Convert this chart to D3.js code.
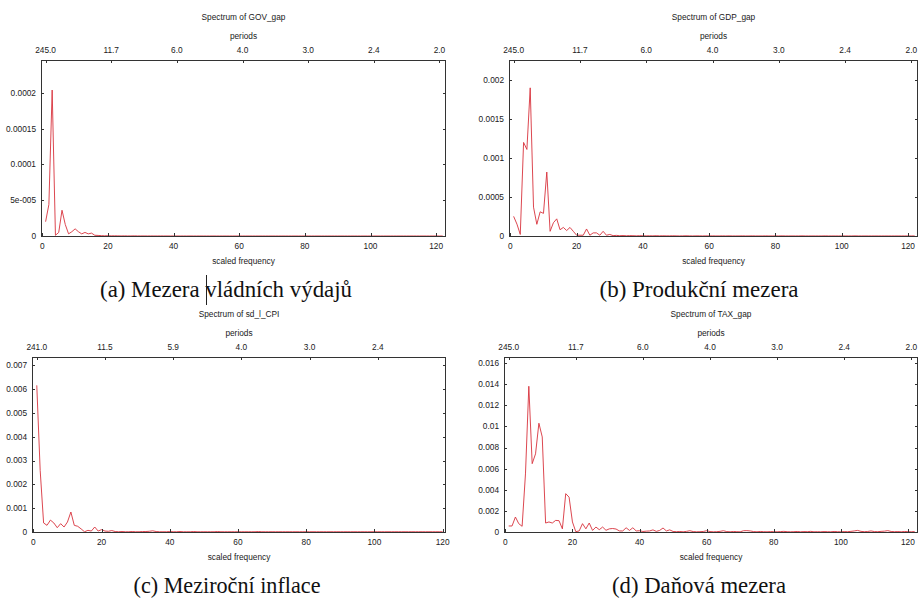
<!DOCTYPE html>
<html lang="cs">
<head>
  <meta charset="utf-8" />
  <title>Spektra</title>
  <script src="https://cdn.jsdelivr.net/npm/d3@7/dist/d3.min.js"></script>
  <style>
    html,body{margin:0;padding:0;background:#fff;}
    #svg{display:block;}
    .ax{font-family:"Liberation Sans",Arial,sans-serif;font-size:8.3px;fill:#1a1a1a;}
    .cap{font-family:"Liberation Serif","DejaVu Serif","Times New Roman",serif;font-size:22px;fill:#111;}
  </style>
</head>
<body>
<svg id="svg"></svg>
<script>
// ----- data: periodogram ordinates, index i -> scaled frequency i+1 -----
const govGap = [
  2.0e-5, 4.4e-5, 2.04e-4, 0.1e-5, 0.5e-5, 3.6e-5, 1.6e-5, 0.3e-5, 0.6e-5, 1.0e-5,
  0.6e-5, 0.3e-5, 0.5e-5, 0.3e-5, 0.4e-5, 0.1e-5, 0.08e-5, 0.05e-5, 0.03e-5, 0.04e-5,
  2e-7, 3e-7, 2e-7, 1e-7, 2e-7, 1e-7, 1e-7, 2e-7, 1e-7, 1e-7,
  1e-7, 5e-8, 1e-7, 5e-8, 5e-8, 1e-7, 5e-8, 5e-8, 3e-8, 5e-8,
  3e-8, 2e-8, 4e-8, 2e-8, 3e-8, 2e-8, 2e-8, 3e-8, 2e-8, 1e-8,
  2e-8, 3e-8, 2e-8, 1e-8, 2e-8, 2e-8, 1e-8, 2e-8, 1e-8, 2e-8,
  1e-8, 2e-8, 1e-8, 1e-8, 2e-8, 1e-8, 1e-8, 2e-8, 1e-8, 1e-8,
  1e-8, 1e-8, 2e-8, 1e-8, 1e-8, 1e-8, 2e-8, 1e-8, 1e-8, 1e-8,
  1e-8, 2e-8, 1e-8, 1e-8, 1e-8, 1e-8, 1e-8, 2e-8, 1e-8, 1e-8,
  1e-8, 1e-8, 1e-8, 2e-8, 1e-8, 1e-8, 1e-8, 1e-8, 1e-8, 1e-8,
  2e-8, 1e-8, 1e-8, 1e-8, 1e-8, 1e-8, 1e-8, 1e-8, 2e-8, 1e-8,
  1e-8, 1e-8, 1e-8, 1e-8, 1e-8, 1e-8, 1e-8, 1e-8, 1e-8, 1e-8,
  1e-8, 1e-8
];
const gdpGap = [
  0.000252, 0.000152, 0.00002, 0.0012, 0.00111, 0.0019, 0.00037, 0.00015, 0.00031, 0.00029,
  0.00082, 0.00006, 0.00017, 0.00022, 0.00008, 0.00011, 0.00007, 0.00011, 0.00006, 0.00001,
  0.00001, 0.00001, 0.00009, 0.00001, 0.00004, 0.00004, 0.00001, 0.00006, 0.00001, 0.00002,
  0.000005, 0.000008, 0.000004, 0.000006, 0.000003, 0.000005, 0.000004, 0.000002, 0.000004, 0.000003,
  0.000002, 0.000003, 0.000002, 0.000004, 0.000002, 0.000003, 0.000002, 0.000002, 0.000003, 0.000002,
  0.000001, 0.000002, 0.000003, 0.000002, 0.000001, 0.000002, 0.000002, 0.000001, 0.000002, 0.000001,
  0.000002, 0.000001, 0.000001, 0.000002, 0.000001, 0.000002, 0.000001, 0.000001, 0.000001, 0.000002,
  0.000001, 0.000001, 0.000002, 0.000001, 0.000001, 0.000001, 0.000002, 0.000001, 0.000001, 0.000001,
  0.000001, 0.000002, 0.000001, 0.000001, 0.000001, 0.000001, 0.000001, 0.000002, 0.000001, 0.000001,
  0.000001, 0.000001, 0.000001, 0.000001, 0.000002, 0.000001, 0.000001, 0.000001, 0.000001, 0.000001,
  0.000001, 0.000001, 0.000001, 0.000002, 0.000001, 0.000001, 0.000001, 0.000001, 0.000001, 0.000001,
  0.000001, 0.000001, 0.000001, 0.000001, 0.000001, 0.000001, 0.000001, 0.000001, 0.000001, 0.000001,
  0.000001, 0.000001
];
const cpiInfl = [
  0.00616, 0.00259, 0.00038, 0.00028, 0.0005, 0.00038, 0.00018, 0.00035, 0.00021, 0.00042,
  0.00084, 0.00028, 0.00024, 0.00013, 0.00001, 0.00007, 0.00004, 0.00021, 0.00004, 0.0001,
  0.00004, 0.00003, 0.00006, 0.00002, 0.00001, 0.00002, 0.00001, 0.00001, 0.00002, 0.00001,
  0.00001, 0.00002, 0.00002, 0.00003, 0.00005, 0.00002, 0.00001, 0.00001, 0.00001, 0.00002,
  0.00001, 0.00001, 0.00002, 0.00001, 0.00001, 0.00001, 0.00002, 0.00001, 0.00001, 0.00001,
  0.00001, 0.00001, 0.00001, 0.00002, 0.00001, 0.00001, 0.00001, 0.00001, 0.00001, 0.00001,
  0.00001, 0.00001, 0.00001, 0.00001, 0.00001, 0.00002, 0.00001, 0.00001, 0.00001, 0.00001,
  0.00001, 0.00001, 0.00001, 0.00001, 0.00001, 0.00001, 0.00001, 0.00001, 0.00001, 0.00001,
  0.00001, 0.00001, 0.00001, 0.00001, 0.00001, 0.00001, 0.00001, 0.00001, 0.00001, 0.00001,
  0.00001, 0.00001, 0.00001, 0.00001, 0.00001, 0.00001, 0.00001, 0.00001, 0.00001, 0.00001,
  0.00001, 0.00001, 0.00001, 0.00001, 0.00001, 0.00001, 0.00001, 0.00001, 0.00001, 0.00001,
  0.00001, 0.00001, 0.00001, 0.00001, 0.00001, 0.00001, 0.00001, 0.00001, 0.00001, 0.00001
];
const taxGap = [
  0.00057, 0.00057, 0.00142, 0.00079, 0.00054, 0.0055, 0.0138, 0.00647, 0.0074, 0.0103,
  0.0090, 0.00085, 0.00095, 0.00085, 0.0011, 0.00107, 0.0003, 0.00363, 0.0033, 0.00095,
  0.00003, 0.0001, 0.00079, 0.0003, 0.00085, 0.00015, 0.00047, 0.00022, 0.00047, 0.00016,
  0.0003, 0.00033, 0.00028, 0.0001, 0.0001, 0.0004, 0.00015, 0.0004, 0.0001, 0.00012,
  0.00005, 0.00008, 0.0001, 0.0002, 0.00006, 0.00015, 0.00038, 0.0001, 0.0002, 0.00005,
  0.00003, 0.00005, 0.00002, 0.00006, 0.00012, 0.00004, 0.00002, 0.00003, 0.00005, 0.00012,
  0.00004, 0.00002, 0.00003, 0.00006, 0.00012, 0.00004, 0.00002, 0.00005, 0.00003, 0.00002,
  0.00012, 0.00013, 0.0001, 0.00004, 0.00002, 0.00005, 0.00003, 0.00002, 0.00004, 0.00003,
  0.00002, 0.00004, 0.00006, 0.00003, 0.00002, 0.00003, 0.00005, 0.00002, 0.00004, 0.00003,
  0.00006, 0.00002, 0.00003, 0.00002, 0.00004, 0.00003, 0.00002, 0.00005, 0.00003, 0.00002,
  0.00004, 0.00003, 0.00006, 0.0001, 0.00015, 0.00006, 0.00003, 0.00005, 0.0001, 0.00004,
  0.00003, 0.00006, 0.00008, 0.00013, 0.00005, 0.00003, 0.00004, 0.00002, 0.00005, 0.00003,
  0.00002, 0.00004
];

// ----- ticks -----
const freqTicks = [0, 20, 40, 60, 80, 100, 120];
const periodPos = [1, 21, 41, 61, 81, 101, 121];
const periodLabels245 = ['245.0', '11.7', '6.0', '4.0', '3.0', '2.4', '2.0'];
const periodLabels241 = ['241.0', '11.5', '5.9', '4.0', '3.0', '2.4'];
const govTicks = [0, 0.00005, 0.0001, 0.00015, 0.0002];
const govTickLabels = ['0', '5e-005', '0.0001', '0.00015', '0.0002'];
const gdpTicks = [0, 0.0005, 0.001, 0.0015, 0.002];
const gdpTickLabels = ['0', '0.0005', '0.001', '0.0015', '0.002'];
const cpiTicks = [0, 0.001, 0.002, 0.003, 0.004, 0.005, 0.006, 0.007];
const cpiTickLabels = ['0', '0.001', '0.002', '0.003', '0.004', '0.005', '0.006', '0.007'];
const taxTicks = [0, 0.002, 0.004, 0.006, 0.008, 0.01, 0.012, 0.014, 0.016];
const taxTickLabels = ['0', '0.002', '0.004', '0.006', '0.008', '0.01', '0.012', '0.014', '0.016'];

const W = 919, H = 598;
const svg = d3.select('#svg').attr('width', W).attr('height', H);

// panel layout: box = [left, top, right, bottom], capW = caption width in the picture
const panels = [
  {title:'Spectrum of GOV_gap', data:govGap, yt:govTicks, ytl:govTickLabels, pl:periodLabels245,
   box:[41, 60, 446, 236], xMax:123, yMax:0.000246, caption:'(a) Mezera vládních výdajů', capX:226, capW:252},
  {title:'Spectrum of GDP_gap', data:gdpGap, yt:gdpTicks, ytl:gdpTickLabels, pl:periodLabels245,
   box:[509, 60, 918, 236], xMax:123, yMax:0.002257, caption:'(b) Produkční mezera', capX:699, capW:199},
  {title:'Spectrum of sd_l_CPI', data:cpiInfl, yt:cpiTicks, ytl:cpiTickLabels, pl:periodLabels241,
   box:[32, 357, 446, 532], xMax:121, yMax:0.00735, caption:'(c) Meziroční inflace', capX:227, capW:187},
  {title:'Spectrum of TAX_gap', data:taxGap, yt:taxTicks, ytl:taxTickLabels, pl:periodLabels245,
   box:[504, 357, 918, 532], xMax:123, yMax:0.01657, caption:'(d) Daňová mezera', capX:699, capW:174}
];

const tk = 3; // inward tick length

panels.forEach(p => {
  const [l, t, r, b] = p.box;
  const x = d3.scaleLinear().domain([-0.4, p.xMax]).range([l, r]);
  const y = d3.scaleLinear().domain([0, p.yMax]).range([b, t]);
  const g = svg.append('g');
  const cx = (l + r) / 2;

  // data line
  const line = d3.line().x((d, i) => x(i + 1)).y(d => y(d));
  g.append('path').datum(p.data)
    .attr('d', line).attr('fill', 'none')
    .attr('stroke', '#d8323c').attr('stroke-width', 0.9);

  // border
  g.append('rect').attr('x', l + 0.5).attr('y', t + 0.5)
    .attr('width', r - l - 1).attr('height', b - t)
    .attr('fill', 'none').attr('stroke', '#333').attr('stroke-width', 1);

  // bottom ticks
  freqTicks.filter(v => v <= p.xMax).forEach(v => {
    const xx = Math.round(x(v)) + 0.5;
    g.append('line').attr('x1', xx).attr('x2', xx).attr('y1', b).attr('y2', b - tk)
      .attr('stroke', '#333');
    g.append('text').attr('class', 'ax').attr('x', x(v)).attr('y', b + 10).attr('dy', '0.35em')
      .attr('text-anchor', 'middle').text(v);
  });

  // top (periods) ticks
  p.pl.forEach((lab, i) => {
    const v = periodPos[i];
    const xx = Math.round(x(v)) + 0.5;
    g.append('line').attr('x1', xx).attr('x2', xx).attr('y1', t).attr('y2', t + tk)
      .attr('stroke', '#333');
    g.append('text').attr('class', 'ax').attr('x', x(v)).attr('y', t - 9.5).attr('dy', '0.35em')
      .attr('text-anchor', 'middle').text(lab);
  });

  // y ticks, mirrored right
  p.yt.forEach((v, i) => {
    const yy = Math.round(y(v)) + 0.5;
    g.append('line').attr('x1', l).attr('x2', l + tk).attr('y1', yy).attr('y2', yy).attr('stroke', '#333');
    g.append('line').attr('x1', r).attr('x2', r - tk).attr('y1', yy).attr('y2', yy).attr('stroke', '#333');
    g.append('text').attr('class', 'ax').attr('x', l - 5).attr('y', y(v)).attr('dy', '0.35em')
      .attr('text-anchor', 'end').text(p.ytl[i]);
  });

  // labels
  g.append('text').attr('class', 'ax').attr('x', cx).attr('y', t - 43).attr('dy', '0.35em')
    .attr('text-anchor', 'middle').text(p.title);
  g.append('text').attr('class', 'ax').attr('x', cx).attr('y', t - 24).attr('dy', '0.35em')
    .attr('text-anchor', 'middle').text('periods');
  g.append('text').attr('class', 'ax').attr('x', cx).attr('y', b + 25).attr('dy', '0.35em')
    .attr('text-anchor', 'middle').text('scaled frequency');

  // caption, sized to its width in the picture
  const cap = g.append('text').attr('class', 'cap').attr('x', p.capX).attr('y', b + 61)
    .attr('text-anchor', 'middle').text(p.caption);
  const w = cap.node().getComputedTextLength();
  if (w > 0) cap.style('font-size', (22 * p.capW / w).toFixed(2) + 'px');
});

// text cursor in caption (a)
svg.append('line').attr('x1', 206.5).attr('x2', 206.5).attr('y1', 275).attr('y2', 305)
  .attr('stroke', '#222').attr('stroke-width', 1);
</script>
</body>
</html>
